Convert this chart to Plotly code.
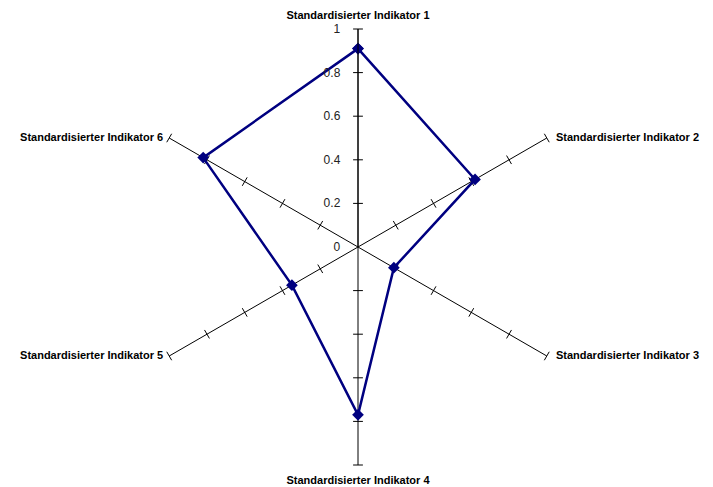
import plotly.graph_objects as go

indikatoren = [
    "Standardisierter Indikator 1",
    "Standardisierter Indikator 2",
    "Standardisierter Indikator 3",
    "Standardisierter Indikator 4",
    "Standardisierter Indikator 5",
    "Standardisierter Indikator 6",
]
werte = [0.91, 0.62, 0.19, 0.77, 0.35, 0.82]
radial_ticks = [0, 0.2, 0.4, 0.6, 0.8, 1]

fig = go.Figure()

# Teilstriche auf allen Speichen (Excel-Netzdiagramm)
tick_r, tick_theta, tick_angle = [], [], []
for i, name in enumerate(indikatoren):
    for v in radial_ticks[1:]:
        tick_r.append(v)
        tick_theta.append(name)
        tick_angle.append(60 * i - 90)

fig.add_trace(go.Scatterpolar(
    r=tick_r,
    theta=tick_theta,
    mode="markers",
    marker=dict(symbol="line-ns", size=7, angle=tick_angle,
                line=dict(color="black", width=1)),
    hoverinfo="skip",
    showlegend=False,
))

# seitliche Beschriftungen (2, 3, 5, 6) mittig zum Speichenende
seiten = [1, 2, 4, 5]
pad = "\u00a0\u00a0\u00a0"
fig.add_trace(go.Scatterpolar(
    r=[radial_ticks[-1]] * len(seiten),
    theta=[indikatoren[i] for i in seiten],
    mode="text",
    text=[pad + indikatoren[i] if i < 3 else indikatoren[i] + pad[:2] for i in seiten],
    textposition=["middle right" if i < 3 else "middle left" for i in seiten],
    textfont=dict(size=11, color="black", weight="bold"),
    cliponaxis=False,
    hoverinfo="skip",
    showlegend=False,
))

# Datenreihe
fig.add_trace(go.Scatterpolar(
    r=werte + werte[:1],
    theta=indikatoren + indikatoren[:1],
    mode="lines+markers",
    line=dict(color="#000080", width=2.5),
    marker=dict(symbol="diamond", size=9, color="#000080"),
    showlegend=False,
))

fig.update_layout(
    template="none",
    width=713,
    height=487,
    paper_bgcolor="white",
    margin=dict(l=0, r=0, t=0, b=0),
    font=dict(family="Liberation Sans, Arial, sans-serif", color="black"),
    polar=dict(
        domain=dict(x=[132 / 713, 568 / 713], y=[30 / 487, 466 / 487]),
        bgcolor="white",
        radialaxis=dict(
            range=[0, 1],
            angle=90,
            side="counterclockwise",
            tickvals=radial_ticks,
            ticktext=[str(t) for t in radial_ticks],
            tickangle=90,
            ticks="outside",
            ticklen=13,
            tickcolor="rgba(0,0,0,0)",
            showgrid=False,
            showline=True,
            linecolor="black",
            linewidth=1,
            tickfont=dict(size=12, color="#222222"),
        ),
        angularaxis=dict(
            direction="clockwise",
            rotation=90,
            tickmode="array",
            tickvals=indikatoren,
            ticktext=[n if i in (0, 3) else "" for i, n in enumerate(indikatoren)],
            showline=False,
            ticks="outside",
            ticklen=5,
            tickcolor="rgba(0,0,0,0)",
            showgrid=True,
            gridcolor="black",
            gridwidth=1,
            tickfont=dict(size=11, color="black", weight="bold"),
        ),
    ),
)

fig.write_html("out.html")
